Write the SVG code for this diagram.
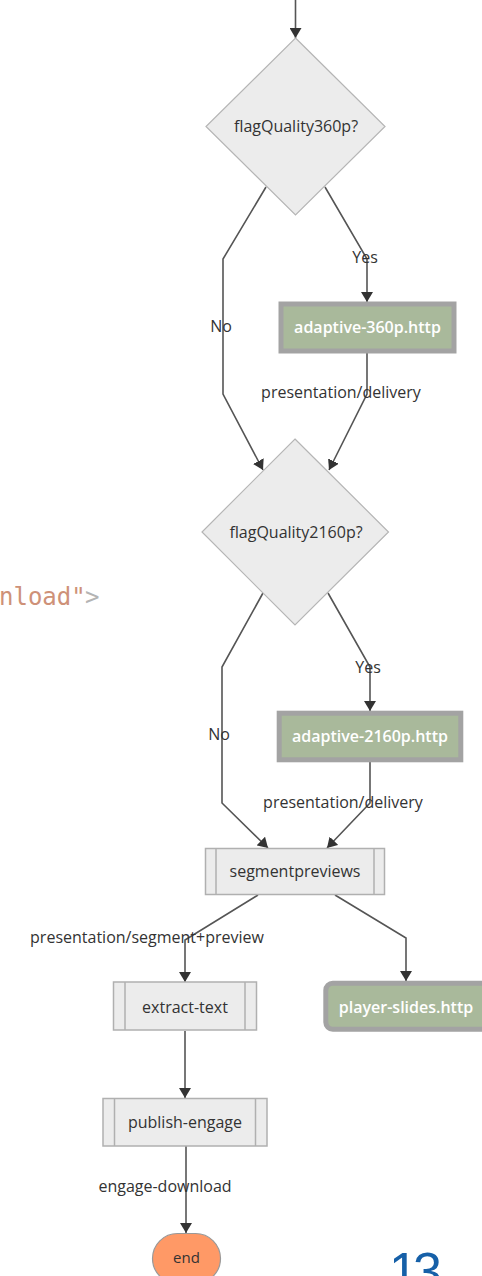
<svg xmlns="http://www.w3.org/2000/svg" width="482" height="1276" viewBox="0 0 482 1276">
<style>
.lbl{font-family:"Open Sans","DejaVu Sans",sans-serif;font-size:16px;fill:#333;text-anchor:middle}
.wl{font-family:"Open Sans","DejaVu Sans",sans-serif;font-size:16px;fill:#fff;text-anchor:middle;font-weight:600}
.dia{fill:#ececec;stroke:#b5b5b5;stroke-width:1.2}
.sub{fill:#ececec;stroke:#b0b0b0;stroke-width:1.5}
.http{fill:#a9b99b;stroke:#a3a3a3;stroke-width:5}
.edge{fill:none;stroke:#555;stroke-width:1.6}
</style>
<defs>
<marker id="arr" markerUnits="userSpaceOnUse" markerWidth="12" markerHeight="12" refX="10" refY="6" orient="auto">
<path d="M0,0 L10,6 L0,12 z" fill="#333"/>
</marker>
</defs>
<text x="-1" y="605" font-family="'DejaVu Sans Mono',monospace" font-size="24" fill="#ce9178">nload"</text>
<text x="85" y="605" font-family="'DejaVu Sans Mono',monospace" font-size="24" fill="#b4b4b4">&gt;</text>
<text x="389" y="1289" font-family="'Liberation Sans',Arial,sans-serif" font-size="52" fill="#1660a8" letter-spacing="-5">13</text>
<g id="connectors">
<path class="edge" d="M295.5,0 L295.5,38" marker-end="url(#arr)"/>
<path class="edge" d="M266,187 L223,259 L223,394 L263,470" marker-end="url(#arr)"/>
<path class="edge" d="M325,187 L367,259 L367,302" marker-end="url(#arr)"/>
<path class="edge" d="M367,353 L367,394 L329,470" marker-end="url(#arr)"/>
<path class="edge" d="M263,593 L222,667 L222,803 L268,848" marker-end="url(#arr)"/>
<path class="edge" d="M328,593 L370,667 L370,711" marker-end="url(#arr)"/>
<path class="edge" d="M370,762 L370,803 L327,848" marker-end="url(#arr)"/>
<path class="edge" d="M258,895 L185,940 L185,982" marker-end="url(#arr)"/>
<path class="edge" d="M335,895 L406,938 L406,981" marker-end="url(#arr)"/>
<path class="edge" d="M185,1031 L185,1098" marker-end="url(#arr)"/>
<path class="edge" d="M186,1146 L186,1233" marker-end="url(#arr)"/>
<text class="lbl" x="221" y="332">No</text>
<text class="lbl" x="365" y="263">Yes</text>
<text class="lbl" x="341" y="398">presentation/delivery</text>
<text class="lbl" x="219" y="740">No</text>
<text class="lbl" x="368" y="673">Yes</text>
<text class="lbl" x="343" y="808">presentation/delivery</text>
<text class="lbl" x="147" y="943">presentation/segment+preview</text>
<text class="lbl" x="165" y="1192">engage-download</text>
</g>
<g id="flagQuality360p">
<polygon class="dia" points="295.5,38 385,126.5 295.5,215 206,126.5"/>
<text class="lbl" x="296" y="132">flagQuality360p?</text>
</g>
<g id="adaptive360p">
<rect class="http" x="281" y="304" width="173" height="47"/>
<text class="wl" x="367.5" y="333">adaptive-360p.http</text>
</g>
<g id="flagQuality2160p">
<polygon class="dia" points="295,439 388.5,532 295,625 202,532"/>
<text class="lbl" x="296" y="538">flagQuality2160p?</text>
</g>
<g id="adaptive2160p">
<rect class="http" x="279.2" y="713.2" width="181.6" height="46.6"/>
<text class="wl" x="370" y="742">adaptive-2160p.http</text>
</g>
<g id="segmentpreviews">
<rect class="sub" x="205.5" y="848.5" width="179" height="46"/>
<line class="sub" x1="216" y1="848.5" x2="216" y2="894.5"/>
<line class="sub" x1="374" y1="848.5" x2="374" y2="894.5"/>
<text class="lbl" x="295" y="877">segmentpreviews</text>
</g>
<g id="extract-text">
<rect class="sub" x="113.5" y="982" width="143" height="48"/>
<line class="sub" x1="125" y1="982" x2="125" y2="1030"/>
<line class="sub" x1="245" y1="982" x2="245" y2="1030"/>
<text class="lbl" x="185" y="1013">extract-text</text>
</g>
<g id="player-slides">
<rect class="http" x="325.8" y="983.2" width="166" height="46" rx="7"/>
<text class="wl" x="406" y="1013">player-slides.http</text>
</g>
<g id="publish-engage">
<rect class="sub" x="103" y="1098.5" width="164" height="47.5"/>
<line class="sub" x1="114.5" y1="1098.5" x2="114.5" y2="1146"/>
<line class="sub" x1="255.5" y1="1098.5" x2="255.5" y2="1146"/>
<text class="lbl" x="185" y="1128">publish-engage</text>
</g>
<g id="end">
<rect x="152.5" y="1233.5" width="68" height="50" rx="25" fill="#ff9966" stroke="#999" stroke-width="1.2"/>
<text class="lbl" x="186.5" y="1263" style="font-size:15px">end</text>
</g>
</svg>
